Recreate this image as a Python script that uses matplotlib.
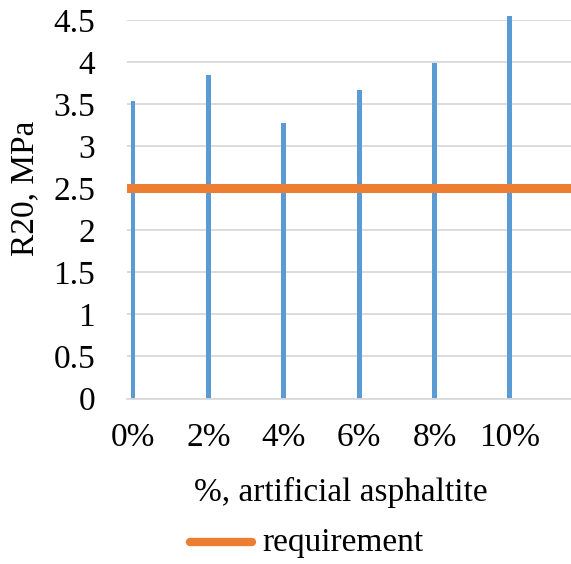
import numpy as np
import matplotlib
matplotlib.use("Agg")
import matplotlib.pyplot as plt

# data
pct = [0, 2, 4, 6, 8, 10]
pct_labels = ["0%", "2%", "4%", "6%", "8%", "10%"]
r20 = [3.54, 3.85, 3.27, 3.67, 3.99, 4.55]
requirement = 2.5

blue = "#5B9BD5"
orange = "#ED7D31"
grid_col = "#D9D9D9"

plt.rcParams['font.family'] = ['Liberation Serif', 'DejaVu Serif']
fs = 24

fig = plt.figure(figsize=(5.71, 5.64), dpi=100)
ax = fig.add_axes([0.2224, 0.2934, 0.7776, 0.6711])

# thin bars
ax.bar(pct, r20, width=0.13, color=blue, zorder=2, clip_on=False)

# requirement line across the whole plot
ax.axhline(requirement, color=orange, lw=6.5, solid_capstyle='round', zorder=3)

ax.set_xlim(-0.16, 11.62)
ax.set_ylim(0, 4.5)
ax.set_yticks(np.arange(0, 4.51, 0.5))
ax.set_yticklabels(["0", "0.5", "1", "1.5", "2", "2.5", "3", "3.5", "4", "4.5"])
ax.set_xticks(pct)
ax.set_xticklabels(pct_labels)

ax.grid(axis='y', color=grid_col, lw=1.3, zorder=0)
ax.set_axisbelow(True)
for s in ["top", "right", "left"]:
    ax.spines[s].set_visible(False)
ax.spines["bottom"].set_color(grid_col)
ax.spines["bottom"].set_linewidth(1.3)

ax.tick_params(axis='both', length=0, labelsize=fs)
ax.tick_params(axis='y', pad=23)
ax.tick_params(axis='x', pad=17)

# axis titles and legend placed as in the picture
fig.text(25 / 571, 1 - 188 / 564, "R20, MPa", rotation=90, fontsize=fs,
         ha='center', va='center')
fig.text(341 / 571, 1 - 492 / 564, "%, artificial asphaltite", fontsize=fs,
         ha='center', va='center')
fig.add_artist(plt.Line2D([190 / 571, 252 / 571], [1 - 542 / 564, 1 - 542 / 564],
                          color=orange, lw=6, solid_capstyle='round'))
fig.text(262 / 571, 1 - 543 / 564, "requirement", fontsize=fs,
         ha='left', va='center')

fig.savefig("out.png", dpi=100)
